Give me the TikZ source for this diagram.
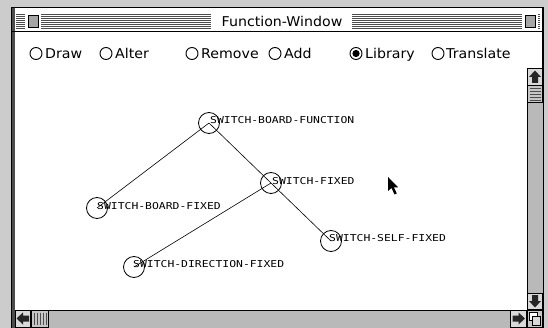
\documentclass[tikz,border=0pt]{standalone}
\usepackage{fontspec}
\newfontfamily\uifont[FakeStretch=1.05]{DejaVu Sans}
\newfontfamily\lblfont[FakeStretch=1.2]{DejaVu Sans Mono}
\tikzset{
  vert/.style={circle, draw, minimum size=21pt, inner sep=0pt, line width=0.8pt},
  lbl/.style={anchor=base west, inner sep=0pt, font=\lblfont\fontsize{9.5}{10}\selectfont},
  radio/.style={circle, draw, minimum size=12pt, inner sep=0pt, line width=0.9pt},
  rlab/.style={anchor=base west, inner sep=0pt, font=\uifont\fontsize{13.5}{14}\selectfont},
  edge/.style={line width=0.6pt},
  dither/.style={fill=gray!55},
  btnbox/.style={fill=gray!30, draw=black, line width=0.6pt},
  glyph/.style={fill=black!85},
}
\begin{document}
\begin{tikzpicture}[x=1pt,y=-1pt]
\useasboundingbox (0,0) rectangle (548,328);
% desktop background
\fill[gray!40] (0,0) rectangle (548,328);
% window
\fill[white] (12,7) rectangle (543,332);
\fill[black!70] (11,7) rectangle (14.5,332);
\draw[line width=1.2pt] (11.6,7.6) rectangle (543,334);
% title bar stripes
\foreach \yy in {14,16,...,28} {\draw[black!70, line width=0.9pt] (16,\yy) -- (540,\yy);}
\fill[white] (211,9) rectangle (352,30);
\fill[white] (25,9) rectangle (41,30);
\fill[white] (522,9) rectangle (538,30);
\fill[gray!70, draw=black, line width=0.6pt] (28,15) rectangle (38,27);
\fill[gray!70, draw=black, line width=0.6pt] (525,15) rectangle (535,27);
\draw[line width=1.5pt] (12,31.5) -- (543,31.5);
\node[anchor=base, inner sep=0pt, font=\uifont\fontsize{13.5}{14}\selectfont] (title) at (282,26.5) {Function-Window};
% radio buttons
\node[radio] (rDraw) at (36,53.5) {};
\node[rlab] (lDraw) at (45,58.5) {Draw};
\node[radio] (rAlter) at (106,53.5) {};
\node[rlab] (lAlter) at (115,58.5) {Alter};
\node[radio] (rRemove) at (192,53.5) {};
\node[rlab] (lRemove) at (201,58.5) {Remove};
\node[radio] (rAdd) at (275,53.5) {};
\node[rlab] (lAdd) at (284,58.5) {Add};
\node[radio] (rLib) at (356,53.5) {};
\fill (rLib.center) circle (3.6pt);
\node[rlab] (lLib) at (365,58.5) {Library};
\node[radio] (rTrans) at (438,53.5) {};
\node[rlab] (lTrans) at (446,58.5) {Translate};
% vertical scroll bar
\fill[dither] (527,68) rectangle (543,310);
\draw[line width=0.8pt] (527,68) -- (527,310);
\draw[line width=0.8pt] (527,68) -- (543,68);
\draw[btnbox] (527.5,68.5) rectangle (542.5,85);
\fill[glyph] (535,70.5) -- (541,77) -- (538,77) -- (538,83) -- (532,83) -- (532,77) -- (529,77) -- cycle;
\draw[fill=gray!45, draw=black, line width=0.6pt] (527.5,85) rectangle (542.5,102);
\foreach \yy in {88,91,...,100} {\draw[black!70, line width=0.7pt] (529.5,\yy) -- (540.5,\yy);}
\draw[btnbox] (527.5,293) rectangle (542.5,309.5);
\fill[glyph] (535,307.5) -- (541,301) -- (538,301) -- (538,295) -- (532,295) -- (532,301) -- (529,301) -- cycle;
% horizontal scroll bar
\fill[dither] (14.5,310) rectangle (527,328);
\draw[line width=0.8pt] (14.5,310) -- (543,310);
\draw[btnbox] (15,310.5) rectangle (30.5,327);
\fill[glyph] (16.5,318.5) -- (23,312.5) -- (23,315.5) -- (29,315.5) -- (29,321.5) -- (23,321.5) -- (23,324.5) -- cycle;
\draw[fill=gray!45, draw=black, line width=0.6pt] (31,310.5) rectangle (48,327);
\foreach \xx in {34,37,...,46} {\draw[black!70, line width=0.7pt] (\xx,312.5) -- (\xx,325);}
\draw[btnbox] (510,310.5) rectangle (526.5,327);
\fill[glyph] (525,318.5) -- (518.5,312.5) -- (518.5,315.5) -- (512.5,315.5) -- (512.5,321.5) -- (518.5,321.5) -- (518.5,324.5) -- cycle;
% size box
\draw[fill=gray!45, draw=black, line width=0.6pt] (527.5,310.5) rectangle (542.5,327);
\draw[fill=white, draw=black, line width=0.6pt] (529.5,312.5) rectangle (537,320);
\draw[fill=gray!30, draw=black, line width=0.6pt] (532.5,316) rectangle (540.5,325);
% graph
\node[vert] (sbf) at (209,123) {};
\node[vert] (sf) at (271,183) {};
\node[vert] (sbx) at (97,208) {};
\node[vert] (ssf) at (331,241) {};
\node[vert] (sdf) at (134,267) {};
\draw[edge] (sbf.center) -- (sbx.center);
\draw[edge] (sbf.center) -- (sf.center);
\draw[edge] (sf.center) -- (ssf.center);
\draw[edge] (sf.center) -- (sdf.center);
\node[lbl] (sbfL) at (210,123.5) {SWITCH-BOARD-FUNCTION};
\node[lbl] (sfL) at (272,184.5) {SWITCH-FIXED};
\node[lbl] (sbxL) at (97,209.5) {SWITCH-BOARD-FIXED};
\node[lbl] (ssfL) at (329,241.5) {SWITCH-SELF-FIXED};
\node[lbl] (sdfL) at (133,267.5) {SWITCH-DIRECTION-FIXED};
% mouse pointer
\fill (388,177) -- (388,191) -- (391.5,188) -- (394.5,194.5) -- (396.8,193.4) -- (393.8,187.3) -- (398.2,187.3) -- cycle;
\end{tikzpicture}
\end{document}
